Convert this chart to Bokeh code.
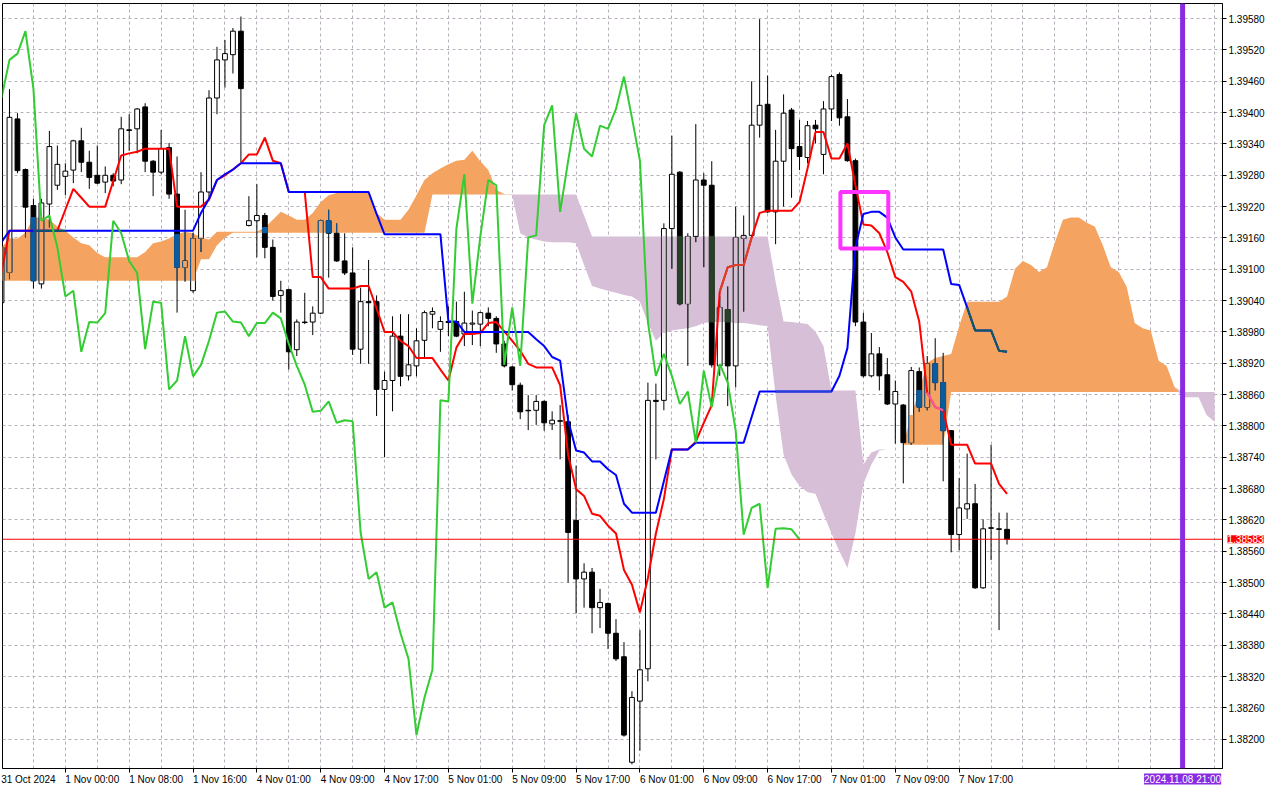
import numpy as np
from bokeh.plotting import figure
from bokeh.models import (Range1d, FixedTicker, Label, Span, BoxAnnotation,
                          PrintfTickFormatter)
from bokeh.embed import file_html
from bokeh.resources import INLINE

# ---------------- data (H1 bars, 31 Oct 16:00 .. 7 Nov 23:00) ----------------
TIME_TICK_BARS = [0, 8, 16, 24, 32, 40, 48, 56, 64, 72, 80, 88, 96, 104, 112, 120]
TIME_LABELS = ["31 Oct 2024", "1 Nov 00:00", "1 Nov 08:00", "1 Nov 16:00",
               "4 Nov 01:00", "4 Nov 09:00", "4 Nov 17:00", "5 Nov 01:00",
               "5 Nov 09:00", "5 Nov 17:00", "6 Nov 01:00", "6 Nov 09:00",
               "6 Nov 17:00", "7 Nov 01:00", "7 Nov 09:00", "7 Nov 17:00"]
PRICE_TICKS = [1.38200, 1.38260, 1.38320, 1.38380, 1.38440, 1.38500, 1.38560,
               1.38620, 1.38680, 1.38740, 1.38800, 1.38860, 1.38920, 1.38980,
               1.39040, 1.39100, 1.39160, 1.39220, 1.39280, 1.39340, 1.39400,
               1.39460, 1.39520, 1.39580]
LAST_PRICE = 1.38583
MARKER_BAR = 148            # 2024.11.08 21:00
MARKER_TEXT = "2024.11.08 21:00"

OPEN = [1.39036, 1.39094, 1.39388, 1.39291, 1.39222, 1.39072, 1.39225, 1.39261, 1.39278, 1.39290,
        1.39346, 1.39305, 1.39280, 1.39267, 1.39280, 1.39271, 1.39367, 1.39369, 1.39411, 1.39307,
        1.39286, 1.39333, 1.39244, 1.39104, 1.39059, 1.39159, 1.39248, 1.39428, 1.39501, 1.39511,
        1.39556, 1.39184, 1.39193, 1.39203, 1.39142, 1.39050, 1.39061, 1.38946, 1.38999, 1.38999,
        1.39016, 1.39193, 1.39169, 1.39116, 1.39093, 1.38947, 1.39038, 1.39038, 1.38870, 1.38887,
        1.38972, 1.38896, 1.38915, 1.38964, 1.39014, 1.38985, 1.39000, 1.39000, 1.38976, 1.38995,
        1.38995, 1.39016, 1.39006, 1.38957, 1.38913, 1.38878, 1.38830, 1.38830, 1.38847, 1.38804,
        1.38810, 1.38808, 1.38619, 1.38507, 1.38520, 1.38452, 1.38460, 1.38403, 1.38358, 1.38156,
        1.38273, 1.38335, 1.38849, 1.38849, 1.39178, 1.39286, 1.39034, 1.39163, 1.39271, 1.39261,
        1.38915, 1.39023, 1.38915, 1.39159, 1.39165, 1.39376, 1.39416, 1.39210, 1.39307, 1.39405,
        1.39335, 1.39314, 1.39376, 1.39320, 1.39407, 1.39473, 1.39392, 1.39308, 1.38999, 1.38896,
        1.38938, 1.38898, 1.38842, 1.38840, 1.38768, 1.38904, 1.38836, 1.38919, 1.38883, 1.38791,
        1.38592, 1.38641, 1.38651, 1.38490, 1.38605, 1.38603, 1.38602]
HIGH = [1.39152, 1.39445, 1.39399, 1.39293, 1.39235, 1.39235, 1.39365, 1.39337, 1.39303, 1.39348,
        1.39371, 1.39327, 1.39337, 1.39297, 1.39284, 1.39392, 1.39397, 1.39409, 1.39418, 1.39309,
        1.39367, 1.39342, 1.39316, 1.39214, 1.39170, 1.39286, 1.39443, 1.39526, 1.39539, 1.39562,
        1.39584, 1.39240, 1.39263, 1.39208, 1.39157, 1.39078, 1.39063, 1.39004, 1.39055, 1.39029,
        1.39195, 1.39214, 1.39188, 1.39169, 1.39142, 1.39065, 1.39118, 1.39050, 1.38904, 1.39010,
        1.39014, 1.39014, 1.38987, 1.39021, 1.39027, 1.39010, 1.39029, 1.39038, 1.39057, 1.39021,
        1.39019, 1.39027, 1.39010, 1.38963, 1.38915, 1.38883, 1.38859, 1.38859, 1.38849, 1.38828,
        1.38840, 1.38821, 1.38724, 1.38537, 1.38528, 1.38488, 1.38462, 1.38430, 1.38386, 1.38292,
        1.38409, 1.38883, 1.38881, 1.39188, 1.39356, 1.39288, 1.39169, 1.39378, 1.39284, 1.39307,
        1.39048, 1.39067, 1.39220, 1.39203, 1.39460, 1.39579, 1.39471, 1.39367, 1.39435, 1.39409,
        1.39386, 1.39384, 1.39386, 1.39422, 1.39473, 1.39477, 1.39426, 1.39312, 1.39017, 1.38978,
        1.38951, 1.38930, 1.38887, 1.38842, 1.38913, 1.38912, 1.38934, 1.38968, 1.38940, 1.38792,
        1.38700, 1.38747, 1.38689, 1.38621, 1.38764, 1.38634, 1.38634]
LOW = [1.39029, 1.39081, 1.39284, 1.39161, 1.39063, 1.39063, 1.39180, 1.39252, 1.39242, 1.39265,
       1.39286, 1.39254, 1.39263, 1.39246, 1.39259, 1.39263, 1.39327, 1.39322, 1.39286, 1.39240,
       1.39282, 1.39235, 1.39017, 1.39076, 1.39055, 1.39133, 1.39233, 1.39397, 1.39448, 1.39475,
       1.39305, 1.39182, 1.39123, 1.39121, 1.39040, 1.39017, 1.38908, 1.38934, 1.38995, 1.38974,
       1.39014, 1.39084, 1.39114, 1.39089, 1.38936, 1.38919, 1.38919, 1.38819, 1.38740, 1.38828,
       1.38876, 1.38887, 1.38895, 1.38932, 1.38987, 1.38942, 1.38972, 1.38970, 1.38953, 1.38955,
       1.38953, 1.38991, 1.38940, 1.38912, 1.38868, 1.38813, 1.38792, 1.38802, 1.38791, 1.38792,
       1.38736, 1.38500, 1.38441, 1.38452, 1.38403, 1.38413, 1.38373, 1.38350, 1.38205, 1.38152,
       1.38178, 1.38311, 1.38736, 1.38830, 1.39101, 1.39031, 1.38915, 1.39152, 1.39104, 1.38912,
       1.38896, 1.38838, 1.38874, 1.39019, 1.39161, 1.39352, 1.39208, 1.39148, 1.39220, 1.39237,
       1.39290, 1.39303, 1.39341, 1.39282, 1.39384, 1.39375, 1.39306, 1.38991, 1.38893, 1.38893,
       1.38868, 1.38840, 1.38766, 1.38690, 1.38764, 1.38827, 1.38830, 1.38868, 1.38694, 1.38558,
       1.38562, 1.38622, 1.38488, 1.38488, 1.38543, 1.38409, 1.38573]
CLOSE = [1.39142, 1.39391, 1.39289, 1.39219, 1.39078, 1.39227, 1.39335, 1.39301, 1.39288, 1.39346,
         1.39305, 1.39276, 1.39265, 1.39280, 1.39269, 1.39369, 1.39366, 1.39407, 1.39307, 1.39286,
         1.39331, 1.39244, 1.39104, 1.39116, 1.39159, 1.39248, 1.39428, 1.39501, 1.39513, 1.39556,
         1.39446, 1.39193, 1.39203, 1.39142, 1.39048, 1.39059, 1.38942, 1.38999, 1.38998, 1.39016,
         1.39193, 1.39169, 1.39116, 1.39093, 1.38947, 1.39038, 1.39036, 1.38870, 1.38887, 1.38972,
         1.38895, 1.38917, 1.38963, 1.39017, 1.39019, 1.39000, 1.38998, 1.38972, 1.38997, 1.38997,
         1.39017, 1.39006, 1.38957, 1.38915, 1.38879, 1.38827, 1.38829, 1.38847, 1.38806, 1.38811,
         1.38809, 1.38596, 1.38507, 1.38520, 1.38452, 1.38462, 1.38403, 1.38354, 1.38208, 1.38280,
         1.38333, 1.38849, 1.38847, 1.39178, 1.39282, 1.39034, 1.39163, 1.39271, 1.39261, 1.38917,
         1.39027, 1.38915, 1.39161, 1.39165, 1.39376, 1.39414, 1.39210, 1.39307, 1.39399, 1.39331,
         1.39316, 1.39375, 1.39369, 1.39407, 1.39469, 1.39390, 1.39308, 1.38999, 1.38896, 1.38938,
         1.38896, 1.38842, 1.38866, 1.38768, 1.38906, 1.38836, 1.38919, 1.38883, 1.38791, 1.38592,
         1.38643, 1.38651, 1.38490, 1.38603, 1.38604, 1.38602, 1.38583]

TENKAN = [1.39095, 1.39174, 1.39174, 1.39174, 1.39174, 1.39174, 1.39174, 1.39174, 1.39214, 1.39254,
          1.39237, 1.39220, 1.39220, 1.39220, 1.39269, 1.39318, 1.39322, 1.39325, 1.39331, 1.39331,
          1.39331, 1.39331, 1.39220, 1.39220, 1.39220, 1.39220, 1.39233, 1.39271, 1.39280, 1.39291,
          1.39303, 1.39320, 1.39320, 1.39352, 1.39308, 1.39303, 1.39248, 1.39248, 1.39248, 1.39085,
          1.39085, 1.39063, 1.39063, 1.39063, 1.39063, 1.39068, 1.39068, 1.39025, 1.38980, 1.38980,
          1.38963, 1.38953, 1.38930, 1.38930, 1.38930, 1.38908, 1.38887, 1.38950, 1.38976, 1.38976,
          1.38978, 1.38997, 1.38999, 1.38981, 1.38963, 1.38944, 1.38919, 1.38912, 1.38912, 1.38912,
          1.38878, 1.38745, 1.38679, 1.38666, 1.38632, 1.38628, 1.38609, 1.38594, 1.38524, 1.38496,
          1.38443, 1.38509, 1.38594, 1.38660, 1.38755, 1.38755, 1.38755, 1.38770, 1.38806, 1.38840,
          1.39057, 1.39104, 1.39108, 1.39108, 1.39161, 1.39208, 1.39212, 1.39212, 1.39212, 1.39212,
          1.39229, 1.39293, 1.39363, 1.39363, 1.39312, 1.39312, 1.39341, 1.39261, 1.39186, 1.39184,
          1.39169, 1.39133, 1.39085, 1.39076, 1.39057, 1.39000, 1.38864, 1.38836, 1.38830, 1.38764,
          1.38764, 1.38764, 1.38728, 1.38728, 1.38728, 1.38689, 1.38670]
KIJUN = [1.39152, 1.39174, 1.39174, 1.39174, 1.39174, 1.39174, 1.39174, 1.39174, 1.39174, 1.39174,
         1.39174, 1.39174, 1.39174, 1.39174, 1.39174, 1.39174, 1.39174, 1.39174, 1.39174, 1.39174,
         1.39174, 1.39174, 1.39174, 1.39174, 1.39174, 1.39208, 1.39235, 1.39271, 1.39282, 1.39291,
         1.39303, 1.39303, 1.39303, 1.39303, 1.39303, 1.39303, 1.39248, 1.39248, 1.39248, 1.39248,
         1.39248, 1.39248, 1.39248, 1.39248, 1.39248, 1.39248, 1.39248, 1.39206, 1.39167, 1.39167,
         1.39167, 1.39167, 1.39167, 1.39167, 1.39167, 1.39167, 1.39000, 1.39000, 1.38980, 1.38980,
         1.38980, 1.38980, 1.38980, 1.38980, 1.38980, 1.38980, 1.38980, 1.38966, 1.38953, 1.38932,
         1.38925, 1.38811, 1.38753, 1.38749, 1.38732, 1.38732, 1.38717, 1.38706, 1.38651, 1.38634,
         1.38634, 1.38634, 1.38634, 1.38694, 1.38755, 1.38755, 1.38755, 1.38768, 1.38768, 1.38768,
         1.38768, 1.38768, 1.38768, 1.38768, 1.38817, 1.38866, 1.38866, 1.38866, 1.38866, 1.38866,
         1.38866, 1.38866, 1.38866, 1.38866, 1.38866, 1.38896, 1.38949, 1.39142, 1.39206, 1.39210,
         1.39210, 1.39199, 1.39161, 1.39138, 1.39138, 1.39138, 1.39138, 1.39138, 1.39138, 1.39072,
         1.39070, 1.39027, 1.38983, 1.38983, 1.38983, 1.38944, 1.38942]
SENKOU_A = [1.39142, 1.39159, 1.39159, 1.39170, 1.39199, 1.39199, 1.39195, 1.39182, 1.39174, 1.39161,
            1.39150, 1.39146, 1.39131, 1.39123, 1.39123, 1.39123, 1.39123, 1.39123, 1.39133, 1.39150,
            1.39153, 1.39159, 1.39167, 1.39172, 1.39169, 1.39161, 1.39157, 1.39172, 1.39172, 1.39172,
            1.39172, 1.39172, 1.39172, 1.39180, 1.39195, 1.39210, 1.39203, 1.39195, 1.39195, 1.39208,
            1.39229, 1.39242, 1.39246, 1.39246, 1.39246, 1.39246, 1.39246, 1.39208, 1.39195, 1.39195,
            1.39195, 1.39214, 1.39242, 1.39271, 1.39284, 1.39293, 1.39301, 1.39308, 1.39310, 1.39327,
            1.39307, 1.39290, 1.39252, 1.39244, 1.39242, 1.39169, 1.39161, 1.39157, 1.39153, 1.39152,
            1.39152, 1.39152, 1.39150, 1.39108, 1.39068, 1.39063, 1.39059, 1.39055, 1.39051, 1.39048,
            1.39038, 1.38997, 1.38963, 1.38978, 1.38983, 1.38985, 1.38987, 1.38991, 1.38997, 1.38999,
            1.38999, 1.38999, 1.38997, 1.38997, 1.38995, 1.38993, 1.38991, 1.38859, 1.38745, 1.38707,
            1.38685, 1.38673, 1.38670, 1.38632, 1.38594, 1.38560, 1.38528, 1.38594, 1.38689, 1.38726,
            1.38753, 1.38755, 1.38755, 1.38764, 1.38821, 1.38868, 1.38921, 1.38930, 1.38934, 1.38938,
            1.38991, 1.39038, 1.39038, 1.39038, 1.39038, 1.39038, 1.39048, 1.39101, 1.39116, 1.39108,
            1.39095, 1.39104, 1.39152, 1.39195, 1.39199, 1.39199, 1.39189, 1.39182, 1.39146, 1.39104,
            1.39095, 1.39066, 1.38997, 1.38987, 1.38983, 1.38925, 1.38915, 1.38874, 1.38855, 1.38855,
            1.38855, 1.38821, 1.38808]
SENKOU_B = [1.39078, 1.39078, 1.39078, 1.39078, 1.39078, 1.39078, 1.39078, 1.39078, 1.39078, 1.39078,
            1.39078, 1.39078, 1.39078, 1.39078, 1.39078, 1.39078, 1.39078, 1.39078, 1.39078, 1.39078,
            1.39078, 1.39078, 1.39078, 1.39078, 1.39078, 1.39119, 1.39119, 1.39146, 1.39161, 1.39170,
            1.39170, 1.39170, 1.39170, 1.39170, 1.39170, 1.39170, 1.39170, 1.39170, 1.39170, 1.39170,
            1.39170, 1.39170, 1.39170, 1.39170, 1.39170, 1.39170, 1.39170, 1.39170, 1.39170, 1.39170,
            1.39170, 1.39170, 1.39170, 1.39170, 1.39243, 1.39243, 1.39243, 1.39243, 1.39243, 1.39243,
            1.39243, 1.39243, 1.39243, 1.39243, 1.39243, 1.39243, 1.39243, 1.39243, 1.39243, 1.39243,
            1.39243, 1.39243, 1.39243, 1.39203, 1.39163, 1.39163, 1.39163, 1.39163, 1.39163, 1.39163,
            1.39163, 1.39163, 1.39163, 1.39163, 1.39163, 1.39163, 1.39163, 1.39163, 1.39163, 1.39163,
            1.39163, 1.39163, 1.39163, 1.39163, 1.39163, 1.39163, 1.39163, 1.39076, 1.39000, 1.38999,
            1.38997, 1.38995, 1.38981, 1.38953, 1.38868, 1.38868, 1.38868, 1.38868, 1.38726, 1.38749,
            1.38755, 1.38755, 1.38755, 1.38764, 1.38764, 1.38764, 1.38764, 1.38764, 1.38764, 1.38865,
            1.38865, 1.38865, 1.38865, 1.38865, 1.38865, 1.38865, 1.38865, 1.38865, 1.38865, 1.38865,
            1.38865, 1.38865, 1.38865, 1.38865, 1.38865, 1.38865, 1.38865, 1.38865, 1.38865, 1.38865,
            1.38865, 1.38865, 1.38865, 1.38865, 1.38865, 1.38865, 1.38865, 1.38865, 1.38865, 1.38865,
            1.38865, 1.38865, 1.38865]
CHIKOU_SHIFT = 26

# ---------------- styles ----------------
FONT = "Liberation Sans"
FSIZE = "10px"
X_LO, X_HI = 0.125, 153.0
Y_LO, Y_HI = 1.38144, 1.39609
BODY_W = 0.6
LABEL_SHIFT = 3.375          # time labels start right of their tick (MT5 style)
ORANGE, THISTLE = "#F4A460", "#D8BFD8"
# colours of black / red / blue elements seen through the (XOR-drawn) cloud
XOR_OR = {"black": "#0B5B9F", "red": "#F45B9F", "blue": "#0B5B60"}
XOR_TH = {"black": "#274027", "red": "#D84027", "blue": "#2740D8"}

o = np.array(OPEN); h = np.array(HIGH); l = np.array(LOW); c = np.array(CLOSE)
n = len(c)
bars = np.arange(n)
up = c >= o
dn = ~up

p = figure(frame_width=1220, frame_height=765,
           x_range=Range1d(X_LO, X_HI), y_range=Range1d(Y_LO, Y_HI),
           y_axis_location="right", output_backend="svg", toolbar_location=None,
           min_border_left=2, min_border_top=3, min_border_right=0, min_border_bottom=0,
           background_fill_color="white", border_fill_color="white")
p.outline_line_color = "black"
p.outline_line_width = 1

# grid
p.xgrid.ticker = FixedTicker(ticks=list(range(4, 153, 4)))
for g in (p.xgrid, p.ygrid):
    g.grid_line_color = "#b9aebb"
    g.grid_line_dash = "3 3"
    g.grid_line_width = 1

# Ichimoku cloud
cx = np.arange(len(SENKOU_A))
sa = np.array(SENKOU_A); sb = np.array(SENKOU_B)
top = np.maximum(sa, sb)
p.varea(x=cx, y1=sb, y2=top, fill_color=ORANGE, fill_alpha=1.0)
p.varea(x=cx, y1=sa, y2=top, fill_color=THISTLE, fill_alpha=1.0)

# candles
p.segment(x0=bars, y0=l, x1=bars, y1=h, line_color="black", line_width=1)
p.vbar(x=bars[up], width=BODY_W, top=c[up], bottom=o[up],
       fill_color="white", line_color="black", line_width=1)
p.vbar(x=bars[dn], width=BODY_W, top=o[dn], bottom=c[dn],
       fill_color="black", line_color="black", line_width=1)

# parts of candles that lie inside the cloud take the cloud's XOR colours
lo = np.minimum(sa, sb)[:n]
hi = np.maximum(sa, sb)[:n]
is_or = (sa >= sb)[:n]
xblack = np.where(is_or, XOR_OR["black"], XOR_TH["black"])
ccol = np.where(is_or, ORANGE, THISTLE)
wt = np.minimum(h, hi); wb = np.maximum(l, lo); wm = wt > wb
p.segment(x0=bars[wm], y0=wb[wm], x1=bars[wm], y1=wt[wm], line_color=list(xblack[wm]), line_width=1)
btop = np.maximum(o, c); bbot = np.minimum(o, c)
it = np.minimum(btop, hi); ib = np.maximum(bbot, lo); bm = it > ib
m1 = bm & dn
p.vbar(x=bars[m1], width=BODY_W, top=it[m1], bottom=ib[m1],
       fill_color=list(xblack[m1]), line_color=list(xblack[m1]), line_width=1)
m2 = bm & up
p.vbar(x=bars[m2], width=BODY_W, top=it[m2], bottom=ib[m2],
       fill_color=list(ccol[m2]), line_color=None)
for side in (-BODY_W / 2, BODY_W / 2):
    p.segment(x0=bars[m2] + side, y0=ib[m2], x1=bars[m2] + side, y1=it[m2],
              line_color=list(xblack[m2]), line_width=1)

# lines
color_name = {"#FF0000": "red", "#0000FF": "blue"}

def ichi_line(vals, color):
    v = np.array(vals)
    p.line(bars, v, line_color=color, line_width=2)
    inside = (v >= lo) & (v <= hi)
    for mask, pal in ((inside & is_or, XOR_OR), (inside & ~is_or, XOR_TH)):
        if mask.any():
            p.line(bars, np.where(mask, v, np.nan), line_color=pal[color_name[color]], line_width=2)

ichi_line(TENKAN, "#FF0000")
ichi_line(KIJUN, "#0000FF")
p.line(bars[:n - CHIKOU_SHIFT], c[CHIKOU_SHIFT:], line_color="#32CD32", line_width=2)

# annotations
p.add_layout(Span(location=LAST_PRICE, dimension="width", line_color="#FF0000", line_width=1))
p.add_layout(Span(location=MARKER_BAR, dimension="height", line_color="#8A2BE2", line_width=5))
p.add_layout(BoxAnnotation(left=105.12, right=111.12, top=1.39248, bottom=1.39140,
                           fill_alpha=0, line_alpha=1.0, line_color="#FF33FF", line_width=4))

# axes
p.yaxis.ticker = FixedTicker(ticks=PRICE_TICKS)
p.yaxis.formatter = PrintfTickFormatter(format="%.5f")
p.yaxis.major_label_text_font = FONT
p.yaxis.major_label_text_font_size = FSIZE
p.yaxis.major_label_text_color = "black"
p.yaxis.major_tick_out = 4
p.yaxis.major_tick_in = 0
p.yaxis.minor_tick_out = 0
p.yaxis.minor_tick_in = 0
p.yaxis.major_label_standoff = 2
p.yaxis.axis_line_color = "black"

label_pos = [t + LABEL_SHIFT for t in TIME_TICK_BARS]
p.xaxis.ticker = FixedTicker(ticks=label_pos, minor_ticks=TIME_TICK_BARS)
p.xaxis.major_label_overrides = {v: s for v, s in zip(label_pos, TIME_LABELS)}
p.xaxis.major_label_text_font = FONT
p.xaxis.major_label_text_font_size = FSIZE
p.xaxis.major_label_text_color = "black"
p.xaxis.major_tick_out = 0
p.xaxis.major_tick_in = 0
p.xaxis.minor_tick_out = 4
p.xaxis.minor_tick_in = 0
p.xaxis.major_label_standoff = 1
p.xaxis.axis_line_color = "black"

# labels outside the frame: placed in side panels so they are not clipped,
# but positioned by data coordinates
p.add_layout(Label(x=MARKER_BAR, y=Y_LO, y_offset=-5, text=MARKER_TEXT,
                   text_align="center", text_baseline="top",
                   text_font=FONT, text_font_size=FSIZE, text_color="white",
                   background_fill_color="#8A2BE2"), "below")
p.add_layout(Label(x=X_HI, y=LAST_PRICE, x_offset=5, text="%.5f" % LAST_PRICE,
                   text_align="left", text_baseline="middle",
                   text_font=FONT, text_font_size=FSIZE, text_color="white",
                   background_fill_color="#FF0000"), "right")

open("out.html", "w").write(file_html(p, INLINE))
